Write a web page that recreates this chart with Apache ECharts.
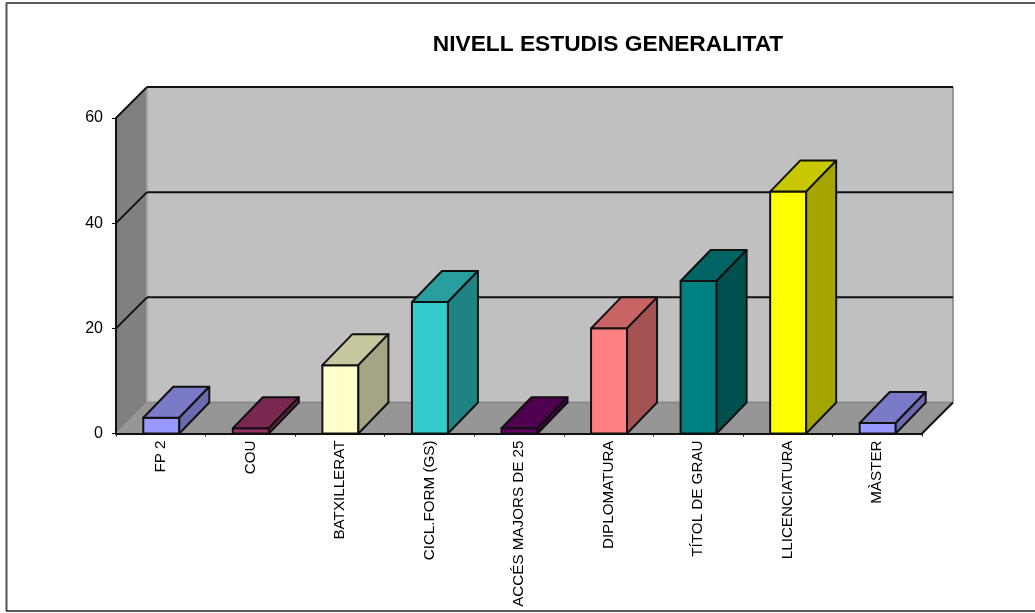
<!DOCTYPE html>
<html><head><meta charset="utf-8">
<style>html,body{margin:0;padding:0;background:#fff}#c{width:1035px;height:613px}</style>
<script src="https://cdn.jsdelivr.net/npm/echarts@6/dist/echarts.min.js"></script>
</head><body><div id="c"></div>
<script>
const categories = ['FP 2','COU','BATXILLERAT','CICL.FORM (GS)','ACCÉS MAJORS DE 25','DIPLOMATURA','TÍTOL DE GRAU','LLICENCIATURA','MÀSTER'];
const values = [3,1,13,25,1,20,29,46,2];
const frontColors = ['#9999ff','#993366','#ffffcc','#33cccc','#660066','#ff8080','#008080','#ffff00','#9999ff'];
const topColors = ['#7a7ac8','#7a2850','#c6c69f','#289e9e','#500050','#c86464','#006464','#c8c800','#7a7ac8'];
const sideColors = ['#6a6aaf','#6a2345','#a5a585','#1f8383','#430043','#a45252','#005050','#a5a500','#6a6aaf'];
const yTicks = [0,20,40,60];
const title = 'NIVELL ESTUDIS GENERALITAT';
const DEPTH = 31, BAR = 36;
const chart = echarts.init(document.getElementById('c'));
const line = {stroke:'#111',lineWidth:2,lineJoin:'round'};
function poly(pts, fill, st){
  return {type:'polygon',shape:{points:pts},style:Object.assign({fill:fill},st||{})};
}
function seg(a,b,w,c){
  return {type:'line',shape:{x1:a[0],y1:a[1],x2:b[0],y2:b[1]},style:{stroke:c||'#111',lineWidth:w||2}};
}
function walls(params, api){
  const x0 = params.coordSys.x, x1 = x0 + params.coordSys.width;
  const y0 = api.coord([0,0])[1], y1 = api.coord([0,60])[1];
  const d = DEPTH, ch = [];
  ch.push(poly([[x0,y0],[x0+d,y0-d],[x1+d,y0-d],[x1,y0]],'#969696'));
  ch.push(poly([[x0,y0],[x0,y1],[x0+d,y1-d],[x0+d,y0-d]],'#808080'));
  ch.push(poly([[x0+d,y0-d],[x0+d,y1-d],[x1+d,y1-d],[x1+d,y0-d]],'#c0c0c0'));
  ch.push(seg([x0+d,y0-d],[x1+d,y0-d],2,'#8a8a8a'));
  ch.push(seg([x0+d,y0-d],[x0+d,y1-d],2,'#a4a4a4'));
  ch.push(seg([x1+d,y0-d],[x1+d,y1-d],2,'#969696'));
  ch.push(seg([x0,y1],[x0+d,y1-d],2));
  ch.push(seg([x0+d,y1-d],[x1+d,y1-d],2));
  ch.push(seg([x1,y0],[x1+d,y0-d],2));
  yTicks.forEach(t=>{
    if(t===0||t===60) return;
    const y = api.coord([0,t])[1];
    ch.push(seg([x0+d,y-d],[x1+d,y-d],2));
    ch.push(seg([x0,y],[x0+d,y-d],2));
  });
  return {type:'group',children:ch};
}
function bar3d(params, api){
  const i = api.value(0), v = api.value(1);
  const b = api.coord([i,0]), t = api.coord([i,v]);
  const l = b[0]-BAR/2+0.5, r = b[0]+BAR/2+0.5, dx = DEPTH-1, dy = DEPTH;
  return {type:'group',children:[
    poly([[l,t[1]],[r,t[1]],[r,b[1]],[l,b[1]]],frontColors[i],line),
    poly([[l,t[1]],[l+dx,t[1]-dy],[r+dx,t[1]-dy],[r,t[1]]],topColors[i],line),
    poly([[r,t[1]],[r+dx,t[1]-dy],[r+dx,b[1]-dy],[r,b[1]]],sideColors[i],line)
  ]};
}
const frame = {stroke:'#222',lineWidth:1.5};
chart.setOption({
  animation:false,
  backgroundColor:'#fff',
  title:{text:title,left:603,top:28,textAlign:'center',textStyle:{fontFamily:'Liberation Sans',fontWeight:'bold',fontSize:22.75,color:'#000'}},
  graphic:[
    {type:'line',shape:{x1:6,y1:3,x2:1035,y2:3},style:frame,silent:true},
    {type:'line',shape:{x1:6.5,y1:3,x2:6.5,y2:611},style:{stroke:'#555',lineWidth:2},silent:true},
    {type:'line',shape:{x1:6,y1:611,x2:1035,y2:611},style:frame,silent:true}
  ],
  grid:{left:116,right:113,top:118,height:315.5},
  xAxis:{type:'category',data:categories,
    axisLine:{show:true,lineStyle:{color:'#111',width:2}},
    axisTick:{show:true,alignWithLabel:false,length:3,lineStyle:{color:'#111'}},
    axisLabel:{rotate:90,interval:0,margin:7,color:'#000',fontFamily:'Liberation Sans',fontSize:15.2},
    z:5},
  yAxis:{type:'value',min:0,max:60,interval:20,
    axisLine:{show:true,lineStyle:{color:'#111',width:2}},
    axisTick:{show:true,length:4,lineStyle:{color:'#111'}},
    axisLabel:{margin:13,color:'#000',fontFamily:'Liberation Sans',fontSize:16,padding:[2,0,0,0]},
    splitLine:{show:false},z:5},
  series:[
    {type:'custom',z:1,renderItem:walls,data:[[0,0]],silent:true,clip:false},
    {type:'custom',z:2,renderItem:bar3d,data:values.map((v,i)=>[i,v]),encode:{x:0,y:1},clip:false}
  ]
});
</script></body></html>
